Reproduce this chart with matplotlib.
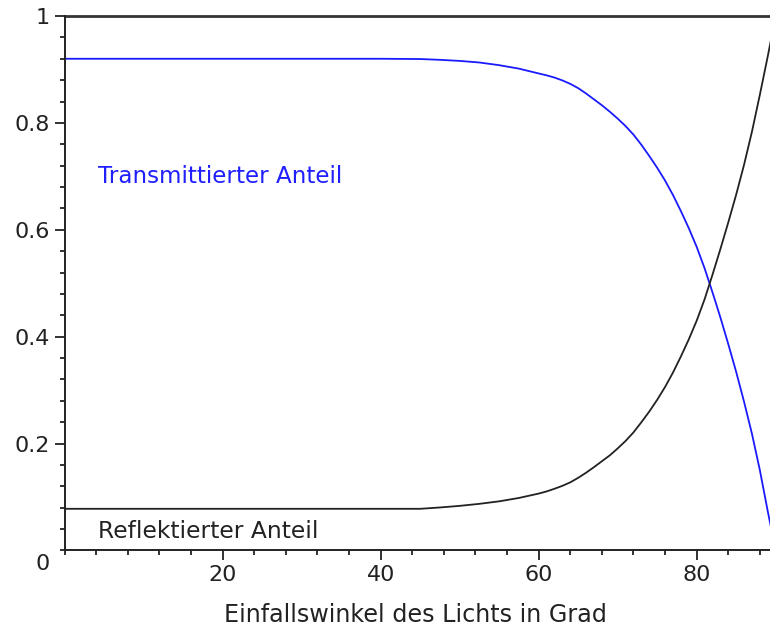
import matplotlib
matplotlib.use("Agg")
import matplotlib.pyplot as plt
from matplotlib.ticker import MultipleLocator, FixedLocator, FixedFormatter

plt.rcParams['font.family'] = ['DejaVu Sans']

# Angle of incidence in degrees
angles = [0, 10, 20, 30, 40, 45, 47.5, 50, 52.5, 55, 57.5, 60, 61, 62, 63, 64,
          65, 66, 67, 68, 69, 70, 71, 72, 73, 74, 75, 76, 77, 78, 79,
          80, 81, 82, 83, 84, 85, 86, 87, 88, 89, 90]

# Transmitted fraction
transmitted = [0.920, 0.920, 0.920, 0.920, 0.920, 0.9195, 0.918, 0.916, 0.913, 0.908,
               0.9015, 0.8925, 0.889, 0.8848, 0.8795, 0.873,
               0.865, 0.855, 0.844, 0.833, 0.821, 0.808, 0.794, 0.778, 0.759, 0.738,
               0.716, 0.692, 0.665, 0.635, 0.603,
               0.568, 0.528, 0.483, 0.436, 0.386, 0.334, 0.278, 0.218, 0.150, 0.073, 0.0]

# Reflected fraction
reflected = [0.078, 0.078, 0.078, 0.078, 0.078, 0.078, 0.0805, 0.0835, 0.0873, 0.092,
             0.0983, 0.1065, 0.1105, 0.1155, 0.121, 0.1275,
             0.136, 0.1455, 0.156, 0.167, 0.178, 0.191, 0.205, 0.221, 0.240, 0.260,
             0.282, 0.306, 0.333, 0.363, 0.395,
             0.430, 0.470, 0.516, 0.564, 0.614, 0.666, 0.722, 0.784, 0.853, 0.925, 1.0]

# Sum of both fractions
total = [1.0] * len(angles)

x_ticks = [20, 40, 60, 80]
y_ticks = [0.2, 0.4, 0.6, 0.8, 1.0]
y_tick_labels = ["0.2", "0.4", "0.6", "0.8", "1"]

fig = plt.figure(figsize=(7.7, 6.3), dpi=100)
ax = fig.add_axes([0.0840, 0.1262, 0.9234, 0.8484])

ax.plot(angles, total, color="#333333", lw=2.0, solid_capstyle="butt", clip_on=False)
ax.plot(angles, transmitted, color="#1a1aff", lw=1.3)
ax.plot(angles, reflected, color="#222222", lw=1.3)

ax.set_xlim(0, 90)
ax.set_ylim(0, 1)

for side in ("top", "right"):
    ax.spines[side].set_visible(False)
for side in ("left", "bottom"):
    ax.spines[side].set_linewidth(1.4)
    ax.spines[side].set_color("#222222")

ax.xaxis.set_major_locator(FixedLocator(x_ticks))
ax.xaxis.set_minor_locator(MultipleLocator(4))
ax.yaxis.set_major_locator(FixedLocator(y_ticks))
ax.yaxis.set_major_formatter(FixedFormatter(y_tick_labels))
ax.yaxis.set_minor_locator(MultipleLocator(0.04))

ax.tick_params(which="major", direction="out", length=7, width=1.3,
               labelsize=16, color="#222222", labelcolor="#222222")
ax.tick_params(which="minor", direction="out", length=3.8, width=1.3, color="#222222")
ax.tick_params(axis="x", which="major", pad=3.5)
ax.tick_params(axis="y", which="major", pad=3.5)

ax.text(-2.75, -0.026, "0", fontsize=16, color="#222222", ha="center", va="center",
        clip_on=False)

ax.set_xlabel("Einfallswinkel des Lichts in Grad", fontsize=17.2, color="#222222")
ax.xaxis.label.set_va("baseline")
ax.xaxis.set_label_coords((415 - 64.7) / 711.0, -0.1343)

ax.text(4.2, 0.6876, "Transmittierter Anteil", fontsize=16.6, color="#2020ff",
        ha="left", va="baseline")
ax.text(4.2, 0.0228, "Reflektierter Anteil", fontsize=16.8, color="#222222",
        ha="left", va="baseline")

fig.savefig("out.png", dpi=100)
